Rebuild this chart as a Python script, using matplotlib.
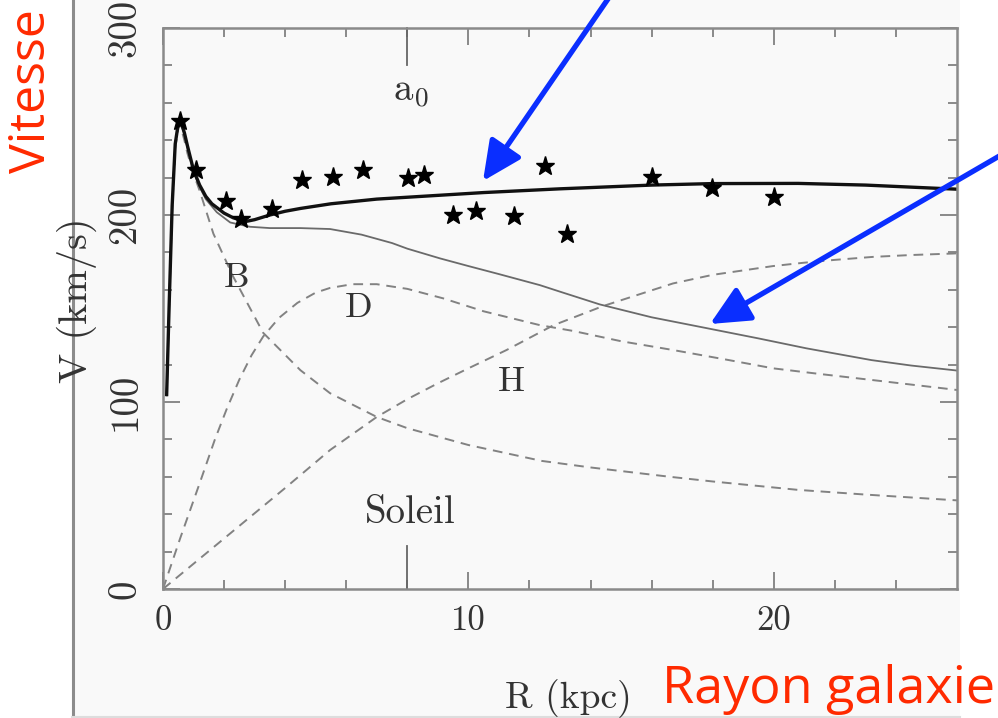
import matplotlib
matplotlib.use("Agg")
import matplotlib.pyplot as plt
from matplotlib.patches import Rectangle
from matplotlib.lines import Line2D

plt.rcParams['font.family'] = 'serif'
plt.rcParams['font.serif'] = ['cmr10']
plt.rcParams['mathtext.fontset'] = 'cm'
plt.rcParams['axes.unicode_minus'] = False

# observed rotation velocities (stars)
star_r = [0.56, 1.07, 2.06, 2.54, 3.56, 4.54, 5.58, 6.55, 8.02, 8.56,
          9.51, 10.24, 11.5, 12.51, 13.22, 16.0, 17.99, 20.0]
star_v = [250.5, 224, 207.6, 197.8, 203, 218.6, 220.4, 224, 219.9, 221.3,
          200, 202, 199.4, 226.3, 189.8, 220.4, 214.5, 209.7]

# total model curve (thick)
tot_r = [0.12, 0.2, 0.3, 0.4, 0.52, 0.6, 0.7, 0.8, 1.0, 1.2, 1.4, 1.6, 1.76, 2.0,
         2.3, 2.7, 3.0, 3.5, 4.0, 4.5, 5.5, 7.0, 8.0, 10.5, 13.0, 16.0, 18.0,
         20.8, 23.0, 26.0]
tot_v = [104, 151, 205, 238, 251, 249, 244, 237, 224, 216, 210, 206, 204, 201,
         198.5, 196.5, 197.5, 200, 202, 203.5, 206, 208.5, 209.5, 212, 214, 216,
         216.8, 216.9, 216, 213.8]

# bulge + disk (thin solid)
bd_r = [0.12, 0.2, 0.3, 0.4, 0.52, 0.6, 0.7, 0.8, 1.0, 1.2, 1.4, 1.76, 2.2, 2.85,
        3.5, 4.5, 5.47, 6.5, 7.5, 8.0, 9.07, 10.0, 11.0, 12.34, 13.0, 14.3, 16.0,
        17.8, 19.5, 21.07, 23.2, 24.5, 25.9, 26.0]
bd_v = [104, 151, 205, 238, 250.5, 248.5, 243, 236, 223, 215, 208.5, 201.5, 196,
        193.7, 193, 193, 192.5, 189.5, 185, 182, 176.8, 172.7, 168.4, 162.5, 159,
        152.2, 145.3, 139.5, 134, 128.7, 122.4, 119.5, 117, 116.8]

# bulge (B)
b_r = [0.12, 0.2, 0.3, 0.4, 0.52, 0.6, 0.7, 0.8, 1.0, 1.2, 1.65, 2.3, 3.28, 4.5,
       5.47, 7.0, 8.0, 10.0, 12.4, 14.0, 16.6, 18.0, 20.8, 23.0, 25.8, 26.0]
b_v = [103, 150, 203, 236, 248, 246, 240, 233, 222, 213, 190, 167, 137, 117,
       104.7, 92, 86, 77, 68.5, 65, 60, 57.5, 53, 50.5, 47.6, 47.4]

# disk (D)
d_r = [0, 0.56, 1.21, 1.7, 2.08, 2.5, 2.9, 3.28, 3.8, 4.4, 5.0, 5.47, 6.2, 7.0,
       8.0, 9.18, 10.5, 12.34, 13.43, 15.0, 16.7, 18.5, 19.98, 21.5, 23.25, 25.87, 26.0]
d_v = [0, 27, 57, 80, 96, 112, 125, 135, 145, 153, 158.5, 161, 163, 163,
       160.5, 155.4, 148.5, 141.1, 138, 132.5, 127.8, 122.5, 118, 115, 111.7, 106.7, 106.4]

# halo (H)
h_r = [0, 1, 2, 3, 4, 5.47, 7.0, 8.0, 9.0, 10.0, 11.25, 12.78, 14.41, 16.7, 18.0,
       19.98, 21.0, 22.0, 23.25, 24.5, 25.87, 26.0]
h_v = [0, 13.5, 27, 40.5, 54, 74.3, 92, 101.5, 110, 118, 127.8, 141, 151.3,
       163.4, 168, 172.7, 174.5, 176, 177.6, 178.6, 179.4, 179.5]

sun_r = 8.0

W, H = 998, 718
fig = plt.figure(figsize=(W / 100, H / 100), dpi=100)

# grey scanned panel behind the plot
fig.patches.append(Rectangle((72 / W, 1.5 / H), (960 - 72) / W, 1.0,
                             transform=fig.transFigure, fc='#f9f9f9', ec='none', zorder=-2))
fig.lines.append(Line2D([73 / W, 73 / W], [1.5 / H, 1.0], transform=fig.transFigure,
                        color='#8c8c8c', lw=2.2, zorder=-1))
fig.lines.append(Line2D([72 / W, 960 / W], [1.5 / H, 1.5 / H], transform=fig.transFigure,
                        color='#dddddd', lw=1.5, zorder=-1))

ax = fig.add_axes([163 / W, (H - 589) / H, (957 - 163) / W, (589 - 28) / H])
ax.set_facecolor('none')
ax.set_zorder(1)

txt = '#333333'
dash = (0, (5, 3.5))
ax.plot(h_r, h_v, color='#828282', lw=1.4, ls=dash)
ax.plot(d_r, d_v, color='#828282', lw=1.4, ls=dash)
ax.plot(b_r, b_v, color='#828282', lw=1.4, ls=dash)
ax.plot(bd_r, bd_v, color='#6a6a6a', lw=1.3)
ax.plot(tot_r, tot_v, color='#111111', lw=2.4)
ax.plot(star_r, star_v, ls='none', marker='*', ms=14, color='black')

# long ticks marking the Sun position
ax.plot([sun_r, sun_r], [0, 0.077], transform=ax.get_xaxis_transform(),
        color='#666666', lw=1.3, clip_on=False)
ax.plot([sun_r, sun_r], [0.934, 1], transform=ax.get_xaxis_transform(),
        color='#666666', lw=1.3, clip_on=False)

ax.set_xlim(0, 26)
ax.set_ylim(0, 300)
ax.set_xticks([0, 10, 20])
ax.set_xticks(range(2, 26, 2), minor=True)
ax.set_yticks([0, 100, 200, 300])
ax.set_yticks(range(20, 300, 20), minor=True)
ax.tick_params(which='both', direction='in', top=True, right=True,
               color='#777777', width=1.2, labelcolor=txt)
ax.tick_params(which='major', length=12)
ax.tick_params(which='minor', length=6.5)
ax.tick_params(axis='x', labelsize=25, pad=12)
ax.tick_params(axis='y', labelsize=28, pad=14, labelrotation=90)
for lab in ax.get_yticklabels():
    lab.set_va('center')
for s in ax.spines.values():
    s.set_color('#8a8a8a')
    s.set_linewidth(1.8)

ax.set_xlabel('R (kpc)', fontsize=27, color=txt)
ax.set_ylabel('V (km/s)', fontsize=29, color=txt)
ax.xaxis.set_label_coords(0.51, -0.16)
ax.yaxis.set_label_coords(-0.083, 0.515)

ax.text(8.12, 265.7, r'$\mathrm{a}_0$', fontsize=28, color=txt, ha='center', va='center')
ax.text(2.42, 166, 'B', fontsize=26, color=txt, ha='center', va='center')
ax.text(6.4, 150, 'D', fontsize=26, color=txt, ha='center', va='center')
ax.text(11.41, 110.8, 'H', fontsize=26, color=txt, ha='center', va='center')
ax.text(8.08, 40.6, 'Soleil', fontsize=28, color=txt, ha='center', va='center')

# red annotations
red = '#ff2a00'
fig.text(32 / W, 1 - 91 / H, 'Vitesse', rotation=90, fontsize=36, color=red,
         family='Open Sans', ha='center', va='center')
fig.text(662 / W, (H - 703) / H, 'Rayon galaxie', fontsize=37.5, color=red,
         family='Open Sans', ha='left', va='baseline')

# blue arrows
blue = '#0a2eff'
arrow = dict(arrowstyle='-|>,head_length=0.8,head_width=0.38', color=blue, lw=3.8,
             mutation_scale=30, shrinkA=0, shrinkB=0)
ax.annotate('', xy=(483, H - 181), xycoords='figure pixels',
            xytext=(621, H + 20), textcoords='figure pixels',
            arrowprops=arrow, annotation_clip=False)
ax.annotate('', xy=(710, H - 324), xycoords='figure pixels',
            xytext=(1020, H - 144), textcoords='figure pixels',
            arrowprops=arrow, annotation_clip=False)

fig.savefig('out.png', dpi=100)
